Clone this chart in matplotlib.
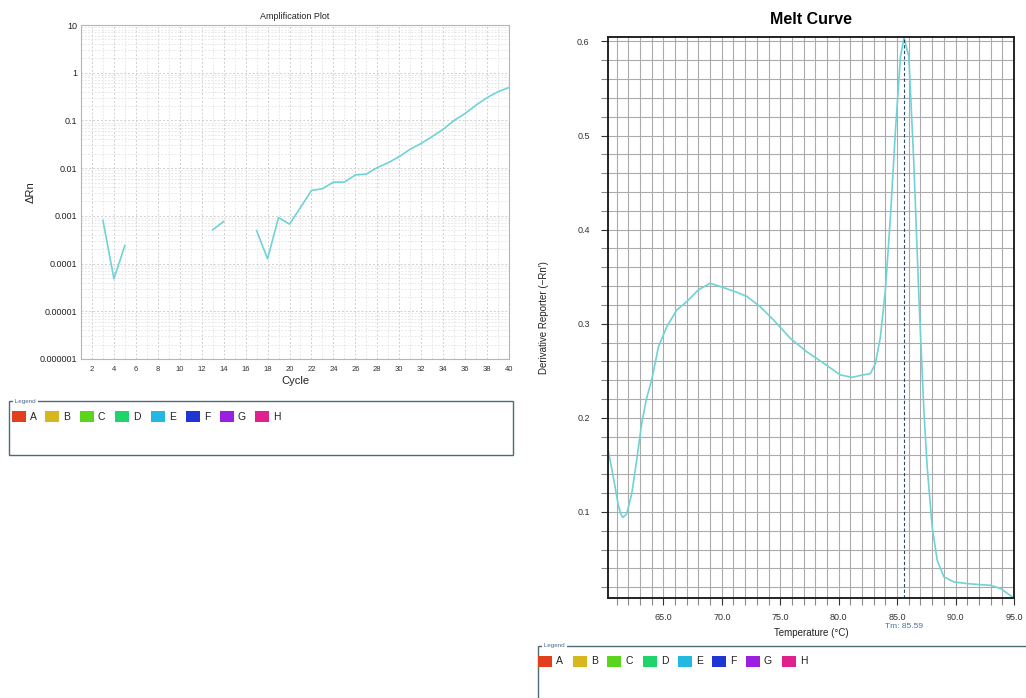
import numpy as np
import matplotlib
matplotlib.use("Agg")
import matplotlib.pyplot as plt
from matplotlib.patches import Rectangle
from matplotlib.ticker import FixedLocator, LogLocator, NullFormatter, MultipleLocator

plt.rcParams['font.family'] = ['Liberation Sans', 'DejaVu Sans']

# amplification data (delta Rn per cycle), three separate runs of points
amp_seg1_cycle = [3, 4, 5]
amp_seg1_drn = [0.0008, 0.000048, 0.00024]
amp_seg2_cycle = [13, 14]
amp_seg2_drn = [0.00051, 0.00076]
amp_seg3_cycle = [17, 18, 19, 20, 21, 22, 23, 24, 25, 26, 27, 28, 29, 30,
                  31, 32, 33, 34, 35, 36, 37, 38, 39, 40]
amp_seg3_drn = [0.00049, 0.000126, 0.00092, 0.00067, 0.0015, 0.0034, 0.0037,
                0.0051, 0.0051, 0.0072, 0.0075, 0.0103, 0.013, 0.0175,
                0.025, 0.033, 0.046, 0.065, 0.1, 0.14, 0.21, 0.30, 0.40, 0.49]
amp_yticks = [1e-6, 1e-5, 1e-4, 1e-3, 1e-2, 1e-1, 1, 10]
amp_ylabels = ['0.000001', '0.00001', '0.0001', '0.001', '0.01', '0.1', '1', '10']

# melt curve: temperature vs -dRn/dT
melt_temp = [60.2, 60.72, 61.15, 61.35, 61.53, 61.87, 62.3, 62.72, 63.15, 63.55,
             64.0, 64.58, 65.3, 66.15, 67.0, 68.0, 69.0, 70.0, 71.15, 72.15,
             73.29, 74.43, 75.86, 77.29, 78.72, 80.15, 81.15, 81.86, 82.72,
             83.15, 83.57, 84.0, 84.43, 84.86, 85.29, 85.59, 86.0, 86.43,
             86.86, 87.28, 87.57, 88.0, 88.43, 89.0, 89.86, 91.0, 92.0, 93.0,
             93.86, 94.86]
melt_deriv = [0.171, 0.137, 0.107, 0.098, 0.094, 0.098, 0.1196, 0.155, 0.194,
              0.22, 0.240, 0.2755, 0.297, 0.3146, 0.3234, 0.336, 0.343, 0.339,
              0.334, 0.329, 0.318, 0.304, 0.2845, 0.270, 0.258, 0.2455, 0.243,
              0.245, 0.247, 0.258, 0.286, 0.336, 0.414, 0.506, 0.584, 0.604,
              0.584, 0.471, 0.329, 0.21, 0.148, 0.084, 0.0486, 0.031, 0.0255,
              0.0238, 0.0228, 0.022, 0.0185, 0.0096]
tm = 85.59

legend_names = ['A', 'B', 'C', 'D', 'E', 'F', 'G', 'H']
legend_colors = ['#e2401c', '#d6b81e', '#5ad41c', '#1fd46a', '#22b8e2',
                 '#1f36d2', '#9b1fe0', '#e0208c']

line_color = '#6fd3d6'
W, H = 1026, 698

fig = plt.figure(figsize=(W / 100, H / 100), dpi=100)


def fx(px):
    return px / W


def fy(py):
    return 1 - py / H


# ---------------- amplification plot ----------------
ax1 = fig.add_axes([fx(81), fy(359), fx(509 - 81), (359 - 25) / H])
for c, v in [(amp_seg1_cycle, amp_seg1_drn), (amp_seg2_cycle, amp_seg2_drn),
             (amp_seg3_cycle, amp_seg3_drn)]:
    ax1.plot(c, v, color=line_color, lw=1.2)
ax1.set_yscale('log')
ax1.set_ylim(1e-6, 10)
ax1.set_xlim(1, 40)
ax1.yaxis.set_major_locator(FixedLocator(amp_yticks))
ax1.set_yticklabels(amp_ylabels)
ax1.yaxis.set_minor_locator(LogLocator(base=10, subs=np.arange(2, 10), numticks=20))
ax1.yaxis.set_minor_formatter(NullFormatter())
ax1.xaxis.set_minor_locator(MultipleLocator(1))
ax1.set_xticks(range(2, 41, 2))
ax1.grid(True, which='major', color='#cfcfcf', ls=(0, (2, 2)), lw=0.7)
ax1.grid(True, which='minor', color='#e2e2e2', ls=(0, (2, 2)), lw=0.6)
ax1.tick_params(which='both', length=0)
ax1.tick_params(axis='x', labelsize=5.5, colors='#333333', pad=5)
ax1.tick_params(axis='y', labelsize=6.5, colors='#222222', pad=3)
for s in ax1.spines.values():
    s.set_color('#b5b5b5')
    s.set_linewidth(0.8)
ax1.set_title('Amplification Plot', fontsize=6.5, pad=4, color='#222222')
ax1.set_xlabel('Cycle', fontsize=8, labelpad=2, color='#222222')
ax1.set_ylabel('ΔRn', fontsize=8, labelpad=3, color='#222222')

# ---------------- melt curve ----------------
ax2 = fig.add_axes([fx(607.7), fy(598), fx(1014 - 607.7), (598 - 36.7) / H])
ax2.plot(melt_temp, melt_deriv, color=line_color, lw=1.2)
ax2.axvline(tm, color='#2b4a66', ls=(0, (3, 2)), lw=0.8)
ax2.set_xlim(60.24, 95.0)
ax2.set_ylim(0.0085, 0.605)
ax2.set_xticks(np.arange(65, 96, 5))
ax2.set_xticklabels([f'{t:.1f}' for t in np.arange(65, 96, 5)])
ax2.xaxis.set_minor_locator(MultipleLocator(1))
ax2.set_yticks([0.1, 0.2, 0.3, 0.4, 0.5, 0.6])
ax2.set_yticklabels(['0.1', '0.2', '0.3', '0.4', '0.5', '0.6'])
ax2.yaxis.set_minor_locator(MultipleLocator(0.02))
ax2.grid(True, which='both', color='#ababab', lw=0.8)
ax2.tick_params(which='both', direction='out', length=5, width=0.8, color='#888888')
ax2.tick_params(axis='x', labelsize=6.5, pad=6, colors='#333333')
ax2.tick_params(axis='y', labelsize=6.5, pad=8, colors='#333333')
for s in ax2.spines.values():
    s.set_color('#222222')
    s.set_linewidth(1.4)
ax2.set_title('Melt Curve', fontsize=11.5, fontweight='bold', pad=9)
ax2.set_xlabel('Temperature (°C)', fontsize=7, labelpad=4, color='#222222')
ax2.set_ylabel('Derivative Reporter (\u2212Rn\u2032)', fontsize=7, labelpad=20,
               color='#222222')
ax2.text(tm, -0.045, f'Tm: {tm}', transform=ax2.get_xaxis_transform(),
         ha='center', va='top', fontsize=6, color='#4a70a0')


# ---------------- legend panels ----------------
def legend_panel(x0, y0, x1, y1, sw_x):
    fig.add_artist(Rectangle((fx(x0), fy(y1)), fx(x1 - x0), (y1 - y0) / H,
                             transform=fig.transFigure, fill=False,
                             ec='#4e6b78', lw=1.0, clip_on=False))
    fig.text(fx(x0 + 4), fy(y0), ' Legend ', fontsize=4.5, color='#4a6a90',
             va='center', ha='left',
             bbox=dict(fc='white', ec='none', pad=0.3))
    for name, col, sx in zip(legend_names, legend_colors, sw_x):
        fig.add_artist(Rectangle((fx(sx), fy(y0 + 21)), fx(14), 11 / H,
                                 transform=fig.transFigure, fc=col, ec='none'))
        fig.text(fx(sx + 18), fy(y0 + 15.5), name, fontsize=7.5,
                 va='center', ha='left', color='#222222')


legend_panel(9, 401, 513, 455, [12, 45, 80, 115, 151, 186, 220, 255])
legend_panel(538, 646, 1040, 720, [538, 573, 607, 643, 678, 712, 746, 782])

fig.savefig('out.png', dpi=100)
